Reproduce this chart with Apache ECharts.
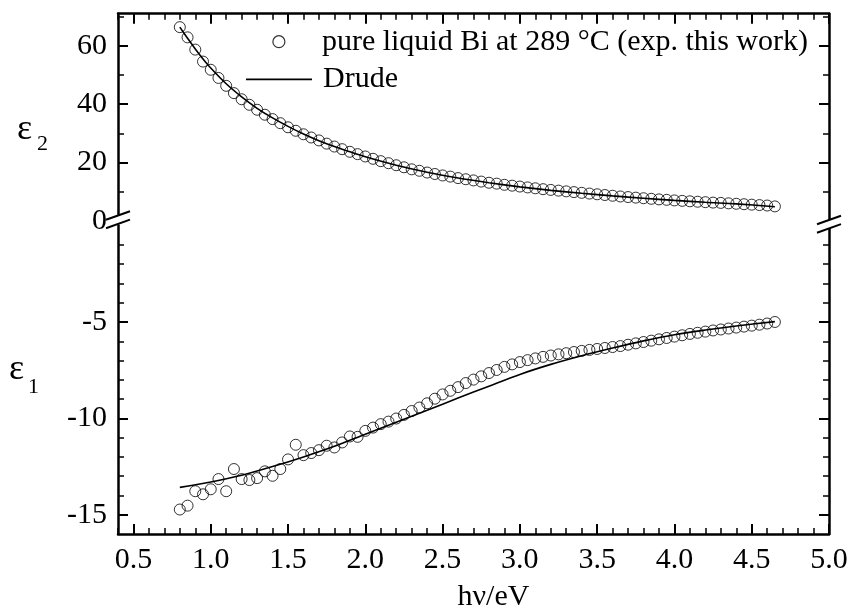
<!DOCTYPE html>
<html>
<head>
<meta charset="utf-8">
<script src="https://cdn.jsdelivr.net/npm/echarts@6/dist/echarts.min.js"></script>
<style>
html, body { margin: 0; padding: 0; background: #fff; }
#chart { width: 855px; height: 611px; }
</style>
</head>
<body>
<div id="chart"></div>
<script>
// Photon energy of each measured point (eV)
const photonEnergy = [
  0.80, 0.85, 0.90, 0.95, 1.00, 1.05, 1.10, 1.15, 1.20, 1.25,
  1.30, 1.35, 1.40, 1.45, 1.50, 1.55, 1.60, 1.65, 1.70, 1.75,
  1.80, 1.85, 1.90, 1.95, 2.00, 2.05, 2.10, 2.15, 2.20, 2.25,
  2.30, 2.35, 2.40, 2.45, 2.50, 2.55, 2.60, 2.65, 2.70, 2.75,
  2.80, 2.85, 2.90, 2.95, 3.00, 3.05, 3.10, 3.15, 3.20, 3.25,
  3.30, 3.35, 3.40, 3.45, 3.50, 3.55, 3.60, 3.65, 3.70, 3.75,
  3.80, 3.85, 3.90, 3.95, 4.00, 4.05, 4.10, 4.15, 4.20, 4.25,
  4.30, 4.35, 4.40, 4.45, 4.50, 4.55, 4.60, 4.65
];

// Imaginary part of the dielectric function, liquid Bi at 289 °C
const eps2Measured = [
  66.4, 62.9, 58.7, 54.6, 51.8, 49.0, 46.3, 43.8, 41.7, 39.8,
  38.1, 36.4, 34.9, 33.5, 32.1, 30.9, 29.7, 28.6, 27.6, 26.5,
  25.5, 24.6, 23.7, 22.9, 22.1, 21.3, 20.5, 19.8, 19.1, 18.4,
  17.7, 17.2, 16.6, 16.1, 15.6, 15.2, 14.7, 14.3, 13.9, 13.5,
  13.1, 12.8, 12.4, 12.1, 11.8, 11.5, 11.2, 10.9, 10.65, 10.4,
  10.15, 9.9, 9.65, 9.4, 9.15, 8.9, 8.65, 8.4, 8.2, 8.0,
  7.8, 7.6, 7.4, 7.25, 7.05, 6.9, 6.75, 6.6, 6.45, 6.3,
  6.2, 6.05, 5.9, 5.75, 5.6, 5.45, 5.3, 5.0
];

// Real part of the dielectric function, liquid Bi at 289 °C
const eps1Measured = [
  -14.73, -14.53, -13.78, -13.94, -13.68, -13.15, -13.78, -12.63, -13.15, -13.2,
  -13.1, -12.75, -12.98, -12.63, -12.13, -11.37, -11.91, -11.8, -11.65, -11.42,
  -11.51, -11.25, -10.94, -10.96, -10.65, -10.48, -10.3, -10.17, -10.01, -9.82,
  -9.62, -9.44, -9.22, -8.98, -8.76, -8.57, -8.38, -8.17, -7.99, -7.82,
  -7.65, -7.49, -7.33, -7.2, -7.08, -6.98, -6.89, -6.81, -6.74, -6.68,
  -6.62, -6.56, -6.5, -6.45, -6.4, -6.35, -6.3, -6.25, -6.18, -6.11,
  -6.04, -5.97, -5.9, -5.83, -5.76, -5.69, -5.62, -5.56, -5.5, -5.44,
  -5.39, -5.34, -5.29, -5.24, -5.19, -5.14, -5.08, -5.0
];

// Drude model curves
const drudeEnergy2 = [0.8, 0.85, 0.9, 0.95, 1.0, 1.1, 1.2, 1.3, 1.4, 1.5, 1.6, 1.7, 1.8, 1.9, 2.0,
  2.2, 2.4, 2.6, 2.8, 3.0, 3.2, 3.4, 3.6, 3.8, 4.0, 4.2, 4.4, 4.65];
const eps2Drude = [66.4, 62.6, 58.9, 55.5, 52.4, 47.0, 42.5, 38.6, 35.3, 32.4, 29.8, 27.5, 25.5, 23.7, 22.0,
  19.1, 16.7, 14.7, 13.1, 11.7, 10.5, 9.5, 8.6, 7.8, 7.05, 6.4, 5.85, 4.9];

const drudeEnergy1 = [0.8, 1.0, 1.2, 1.4, 1.6, 1.8, 2.0, 2.2, 2.4, 2.6, 2.8, 3.0,
  3.2, 3.4, 3.6, 3.8, 4.0, 4.2, 4.4, 4.65];
const eps1Drude = [-13.58, -13.3, -12.95, -12.5, -12.0, -11.45, -10.82, -10.2, -9.58, -8.95, -8.33, -7.72,
  -7.2, -6.75, -6.35, -5.98, -5.66, -5.42, -5.21, -4.98];

// Tick positions
const xMajorTicks = [0.5, 1.0, 1.5, 2.0, 2.5, 3.0, 3.5, 4.0, 4.5, 5.0];
const xMinorTicks = [0.4, 0.6, 0.7, 0.8, 0.9, 1.1, 1.2, 1.3, 1.4, 1.6, 1.7, 1.8, 1.9,
  2.1, 2.2, 2.3, 2.4, 2.6, 2.7, 2.8, 2.9, 3.1, 3.2, 3.3, 3.4, 3.6, 3.7, 3.8, 3.9,
  4.1, 4.2, 4.3, 4.4, 4.6, 4.7, 4.8, 4.9];
const eps2MajorTicks = [20, 40, 60];
const eps2TickLabels = [0, 20, 40, 60];
const eps2MinorTicks = [10, 30, 50, 70];
const eps1MajorTicks = [-15, -10, -5];
const eps1TickLabels = [-15, -10, -5];
const eps1MinorTicks = [-14, -13, -12, -11, -9, -8, -7, -6, -4, -3, -2, -1];

const seriesMeasured = 'pure liquid Bi at 289 °C (exp. this work)';
const seriesDrude = 'Drude';

const FONT = 'Liberation Serif';
const INK = '#000';

function pairs(xs, ys) { return xs.map((x, i) => [x, ys[i]]); }

function xAxisDef(grid, pos, ticks, len, opts) {
  return Object.assign({
    type: 'value', gridIndex: grid, position: pos, min: 0.4, max: 5.0,
    axisLine: { show: false, onZero: false },
    axisTick: { show: true, inside: true, length: len, customValues: ticks,
      lineStyle: { color: INK, width: len > 7 ? 2 : 1.5 } },
    axisLabel: { show: false },
    splitLine: { show: false }
  }, opts || {});
}

function yAxisDef(grid, pos, min, max, ticks, len, opts) {
  return Object.assign({
    type: 'value', gridIndex: grid, position: pos, min: min, max: max,
    axisLine: { show: false, onZero: false },
    axisTick: { show: true, inside: true, length: len, customValues: ticks,
      lineStyle: { color: INK, width: len > 7 ? 2 : 1.5 } },
    axisLabel: { show: false },
    splitLine: { show: false }
  }, opts || {});
}

const frameLine = { show: true, onZero: false, lineStyle: { color: INK, width: 2.5 } };
const tickLabelStyle = { fontFamily: FONT, fontSize: 30, color: INK };

const chart = echarts.init(document.getElementById('chart'), null, { renderer: 'canvas' });

const option = {
  backgroundColor: '#fff',
  animation: false,
  grid: [
    { left: 118, width: 711, top: 13.7, height: 207.3, outerBoundsMode: 'none', containLabel: false },
    { left: 118, width: 711, top: 225.6, height: 308.4, outerBoundsMode: 'none', containLabel: false }
  ],
  xAxis: [
    // upper panel: top frame edge
    xAxisDef(0, 'top', xMajorTicks, 10, { axisLine: frameLine }),
    xAxisDef(0, 'top', xMinorTicks, 6),
    // lower panel: bottom axis with labels
    xAxisDef(1, 'bottom', xMajorTicks, 10, {
      axisLine: frameLine,
      axisLabel: { show: true, customValues: xMajorTicks, margin: 11,
        formatter: v => v.toFixed(1), ...tickLabelStyle },
      name: 'hν/eV', nameLocation: 'middle', nameGap: 48,
      nameTextStyle: { fontFamily: FONT, fontSize: 30, color: INK, padding: [0, 0, 0, 40] }
    }),
    xAxisDef(1, 'bottom', xMinorTicks, 6)
  ],
  yAxis: [
    // upper panel (ε2)
    yAxisDef(0, 'left', 0, 71, eps2MajorTicks, 10, {
      axisLine: frameLine,
      axisLabel: { show: true, customValues: eps2TickLabels, margin: 11, ...tickLabelStyle }
    }),
    yAxisDef(0, 'left', 0, 71, eps2MinorTicks, 6),
    yAxisDef(0, 'right', 0, 71, eps2MajorTicks, 10, { axisLine: frameLine }),
    yAxisDef(0, 'right', 0, 71, eps2MinorTicks, 6),
    // lower panel (ε1)
    yAxisDef(1, 'left', -16, 0, eps1MajorTicks, 10, {
      axisLine: frameLine,
      axisLabel: { show: true, customValues: eps1TickLabels, margin: 11, ...tickLabelStyle }
    }),
    yAxisDef(1, 'left', -16, 0, eps1MinorTicks, 6),
    yAxisDef(1, 'right', -16, 0, eps1MajorTicks, 10, { axisLine: frameLine }),
    yAxisDef(1, 'right', -16, 0, eps1MinorTicks, 6)
  ],
  legend: [
    {
      right: 47, top: 26.7, padding: 0, orient: 'vertical',
      itemWidth: 76, itemHeight: 12, selectedMode: false,
      textStyle: { fontFamily: FONT, fontSize: 30, color: INK },
      data: [{ name: seriesMeasured, icon: 'circle',
        itemStyle: { color: 'transparent', borderColor: INK, borderWidth: 1.2 } }]
    },
    {
      left: 246, top: 64.3, padding: 0, orient: 'vertical',
      itemWidth: 66, itemHeight: 1.8, symbolKeepAspect: false, selectedMode: false,
      textStyle: { fontFamily: FONT, fontSize: 30, color: INK, padding: [0, 0, 0, 6] },
      data: [{ name: seriesDrude, icon: 'rect',
        itemStyle: { color: INK, borderWidth: 0 } }]
    }
  ],
  series: [
    {
      name: seriesMeasured, type: 'scatter', xAxisIndex: 0, yAxisIndex: 0,
      symbol: 'circle', symbolSize: 11,
      itemStyle: { color: 'transparent', borderColor: INK, borderWidth: 1 },
      data: pairs(photonEnergy, eps2Measured)
    },
    {
      name: seriesDrude, type: 'line', xAxisIndex: 0, yAxisIndex: 0,
      symbol: 'none', smooth: 0.3,
      itemStyle: { color: INK },
      lineStyle: { color: INK, width: 1.6 },
      data: pairs(drudeEnergy2, eps2Drude)
    },
    {
      name: seriesMeasured, type: 'scatter', xAxisIndex: 2, yAxisIndex: 4,
      symbol: 'circle', symbolSize: 11,
      itemStyle: { color: 'transparent', borderColor: INK, borderWidth: 1 },
      data: pairs(photonEnergy, eps1Measured)
    },
    {
      name: seriesDrude, type: 'line', xAxisIndex: 2, yAxisIndex: 4,
      symbol: 'none', smooth: 0.3,
      itemStyle: { color: INK },
      lineStyle: { color: INK, width: 1.6 },
      data: pairs(drudeEnergy1, eps1Drude)
    }
  ]
};

chart.setOption(option);

// Axis-break marks and panel captions, placed from the grid geometry
const upperBL = chart.convertToPixel({ xAxisIndex: 0, yAxisIndex: 0 }, [0.4, 0]);
const lowerTR = chart.convertToPixel({ xAxisIndex: 2, yAxisIndex: 4 }, [5.0, 0]);
const gapMid = (upperBL[1] + lowerTR[1]) / 2;

function breakMark(x, yc) {
  const half = 4.2, dx = 12, dy = 4.3;
  const a = yc - half, b = yc + half;
  return [
    { type: 'polygon', z: 100, silent: true,
      shape: { points: [[x - dx, a + dy], [x + dx, a - dy], [x + dx, b - dy], [x - dx, b + dy]] },
      style: { fill: '#fff', stroke: null } },
    { type: 'line', z: 101, silent: true,
      shape: { x1: x - dx, y1: a + dy, x2: x + dx, y2: a - dy },
      style: { stroke: INK, lineWidth: 2 } },
    { type: 'line', z: 101, silent: true,
      shape: { x1: x - dx, y1: b + dy, x2: x + dx, y2: b - dy },
      style: { stroke: INK, lineWidth: 2 } }
  ];
}

function caption(x, y, main, sub, subDx, subDy) {
  return [
    { type: 'text', z: 100, silent: true, x: x, y: y,
      style: { text: main, fontFamily: FONT, fontSize: 36, fill: INK,
        textAlign: 'left', textVerticalAlign: 'middle' } },
    { type: 'text', z: 100, silent: true, x: x + subDx, y: y + subDy,
      style: { text: sub, fontFamily: FONT, fontSize: 22, fill: INK,
        textAlign: 'left', textVerticalAlign: 'middle' } }
  ];
}

chart.setOption({
  graphic: [
    ...breakMark(upperBL[0], gapMid - 3.6),
    ...breakMark(lowerTR[0], gapMid + 0.9),
    ...caption(17, 129.5, 'ε', '2', 20, 15),
    ...caption(9, 370, 'ε', '1', 19, 17)
  ]
});
</script>
</body>
</html>
